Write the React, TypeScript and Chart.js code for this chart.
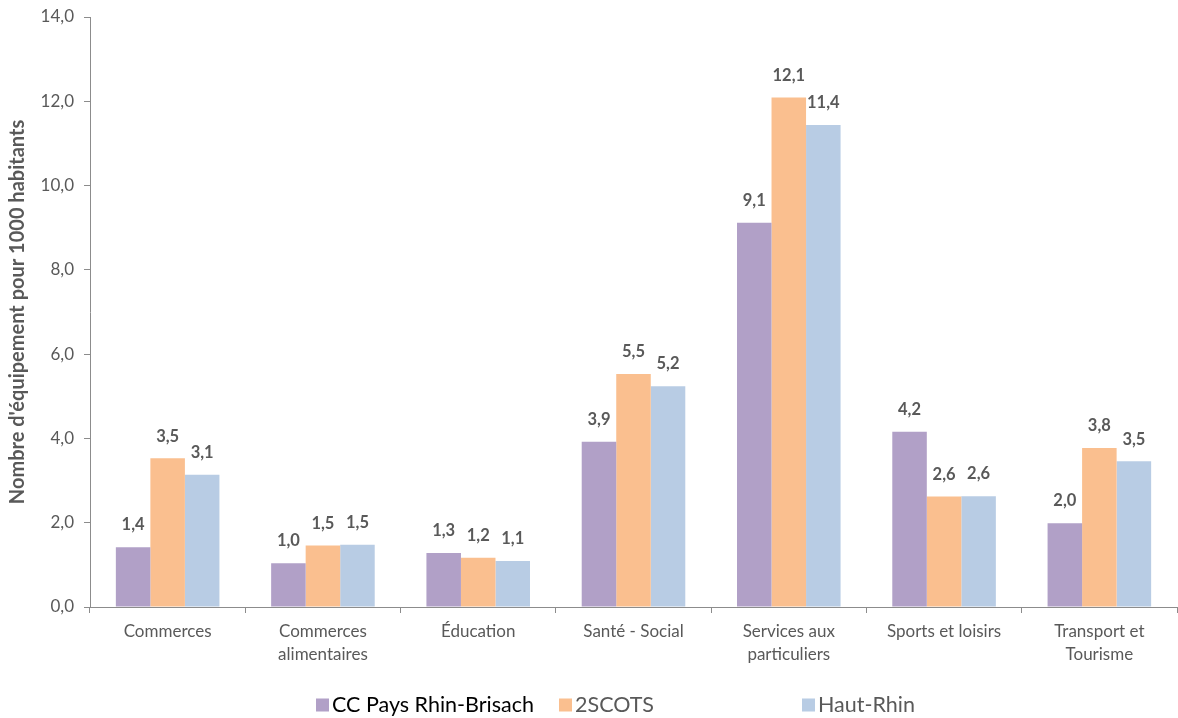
import React, { useEffect, useRef } from 'react';
import { Chart, registerables } from 'chart.js';

Chart.register(...registerables);

// ---- Data ----
const categories: string[][] = [
  ['Commerces'],
  ['Commerces', 'alimentaires'],
  ['Éducation'],
  ['Santé - Social'],
  ['Services aux', 'particuliers'],
  ['Sports et loisirs'],
  ['Transport et', 'Tourisme'],
];
const seriesNames = ['CC Pays Rhin-Brisach', '2SCOTS', 'Haut-Rhin'];
const ccValues = [1.42, 1.04, 1.28, 3.92, 9.12, 4.16, 1.99];
const scotsValues = [3.53, 1.46, 1.17, 5.53, 12.09, 2.62, 3.77];
const hautRhinValues = [3.14, 1.48, 1.09, 5.24, 11.44, 2.63, 3.46];
const yMin = 0;
const yMax = 14;
const yStep = 2;
const yTitle = "Nombre d'équipement pour 1000 habitants";

// ---- Styles ----
const colors = ['#B1A0C7', '#FABF8F', '#B8CCE4'];
const legendTextColors = ['#000000', '#595959', '#595959'];
const axisColor = '#8C8C8C';
const textGray = '#595959';
const FONT = 'Lato, "Open Sans", sans-serif';

const fmt = (v: number) => v.toFixed(1).replace('.', ',');

const dataLabelPlugin = {
  id: 'dataLabels',
  afterDatasetsDraw(chart: any) {
    const ctx = chart.ctx;
    ctx.save();
    ctx.font = `bold 16.5px ${FONT}`;
    ctx.fillStyle = textGray;
    ctx.textAlign = 'center';
    ctx.textBaseline = 'middle';
    chart.data.datasets.forEach((ds: any, i: number) => {
      const meta = chart.getDatasetMeta(i);
      meta.data.forEach((el: any, j: number) => {
        ctx.fillText(fmt(ds.data[j]), el.x, el.y - 22);
      });
    });
    ctx.restore();
  },
};

const customLegendPlugin = {
  id: 'customLegend',
  afterDraw(chart: any) {
    const ctx = chart.ctx;
    const startX = 316;
    const colWidth = 243;
    const cy = 705;
    const box = 13;
    ctx.save();
    ctx.font = `21.5px ${FONT}`;
    ctx.textBaseline = 'middle';
    ctx.textAlign = 'left';
    chart.data.datasets.forEach((ds: any, i: number) => {
      const x = startX + i * colWidth;
      ctx.fillStyle = ds.backgroundColor;
      ctx.fillRect(x, cy - box / 2, box, box);
      ctx.fillStyle = legendTextColors[i];
      ctx.fillText(ds.label, x + box + 3, cy);
    });
    ctx.restore();
  },
};

export default function App() {
  const canvasRef = useRef<HTMLCanvasElement | null>(null);

  useEffect(() => {
    document.body.style.margin = '0';
    const canvas = canvasRef.current;
    if (!canvas) return;
    const seriesValues = [ccValues, scotsValues, hautRhinValues];
    const chart = new Chart(canvas, {
      type: 'bar',
      data: {
        labels: categories,
        datasets: seriesNames.map((name, i) => ({
          label: name,
          data: seriesValues[i],
          backgroundColor: colors[i],
          borderWidth: 0,
          categoryPercentage: 0.667,
          barPercentage: 1.0,
        })),
      },
      options: {
        animation: false,
        responsive: false,
        devicePixelRatio: 1,
        layout: { padding: { top: 17, left: 0, right: 1, bottom: 41 } },
        plugins: {
          legend: { display: false },
          tooltip: { enabled: false },
        },
        scales: {
          x: {
            afterFit: (s: any) => { s.height = 70; },
            grid: {
              display: true,
              drawOnChartArea: false,
              drawTicks: true,
              tickLength: 6,
              color: axisColor,
              offset: true,
            },
            border: { display: true, color: axisColor, width: 1 },
            ticks: {
              color: textGray,
              font: { family: FONT, size: 17, lineHeight: '23px' },
              padding: 7,
              maxRotation: 0,
              autoSkip: false,
            },
          },
          y: {
            min: yMin,
            max: yMax,
            afterFit: (s: any) => {
              s.width = 90;
              s.paddingTop = 0;
              s.paddingBottom = 0;
            },
            grid: {
              display: true,
              drawOnChartArea: false,
              drawTicks: true,
              tickLength: 6,
              color: axisColor,
            },
            border: { display: true, color: axisColor, width: 1 },
            ticks: {
              stepSize: yStep,
              color: textGray,
              font: { family: FONT, size: 17 },
              padding: 10,
              callback: (v: any) => fmt(Number(v)),
            },
            title: {
              display: true,
              text: yTitle,
              color: textGray,
              font: { family: FONT, size: 20, weight: 'bold' },
              padding: { top: 6, bottom: 0 },
            },
          },
        },
      },
      plugins: [dataLabelPlugin, customLegendPlugin],
    });
    return () => chart.destroy();
  }, []);

  return (
    <div style={{ width: 1178, height: 718 }}>
      <canvas ref={canvasRef} width={1178} height={718} style={{ display: 'block' }} />
    </div>
  );
}
